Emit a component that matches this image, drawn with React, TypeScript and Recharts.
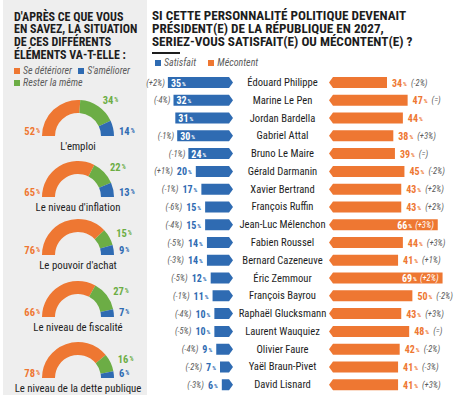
import { PieChart, Pie, Cell, BarChart, Bar, XAxis, YAxis } from 'recharts';

const ORANGE = '#ee7732';
const BLUE = '#2f6bb2';
const GREEN = '#6cad45';
const INK = '#1d1d1d';
const MUTED = '#5c5c5c';
const NARROW = "'Roboto Condensed', 'Liberation Sans Narrow', 'DejaVu Sans Condensed', 'Arial Narrow', sans-serif";

// Situation des différents éléments (%)
const themes = ["L'emploi", "Le niveau d'inflation", "Le pouvoir d'achat", 'Le niveau de fiscalité', 'Le niveau de la dette publique'];
const worsen = [52, 65, 76, 66, 78];
const steady = [34, 22, 15, 27, 16];
const improve = [14, 13, 9, 7, 6];

// Satisfait / mécontent si la personnalité devenait président(e) en 2027 (%)
const politicians = [
  'Édouard Philippe', 'Marine Le Pen', 'Jordan Bardella', 'Gabriel Attal', 'Bruno Le Maire',
  'Gérald Darmanin', 'Xavier Bertrand', 'François Ruffin', 'Jean-Luc Mélenchon', 'Fabien Roussel',
  'Bernard Cazeneuve', 'Éric Zemmour', 'François Bayrou', 'Raphaël Glucksmann', 'Laurent Wauquiez',
  'Olivier Faure', 'Yaël Braun-Pivet', 'David Lisnard',
];
const satisfied = [35, 32, 31, 30, 24, 20, 17, 15, 15, 14, 14, 12, 11, 10, 10, 9, 7, 6];
const satisfiedShift = ['+2%', '-4%', '', '-1%', '-1%', '+1%', '-1%', '-6%', '-4%', '-5%', '-3%', '-5%', '-1%', '-4%', '-5%', '-4%', '-2%', '-3%'];
const unhappy = [34, 47, 44, 38, 39, 45, 43, 43, 66, 44, 41, 69, 50, 43, 48, 42, 41, 41];
const unhappyShift = ['-2%', '=', '', '+3%', '=', '-2%', '+2%', '+2%', '+3%', '+3%', '+1%', '+2%', '-2%', '+3%', '=', '-2%', '-3%', '+3%'];

const donutY = [131, 192, 250, 312, 373];
const donuts = themes.map((theme, i) => [
  { key: 'Se détériorer', value: worsen[i], theme, color: ORANGE },
  { key: 'Rester la même', value: steady[i], theme, color: GREEN },
  { key: "S'améliorer", value: improve[i], theme, color: BLUE },
]);

const rows = politicians.map((name, i) => ({
  name,
  sat: satisfied[i],
  satShift: satisfiedShift[i],
  mec: unhappy[i],
  mecShift: unhappyShift[i],
}));

const TIP = 4;
// centre of the names column, in chart coordinates
const NAME_X = 142.5;

function pct(v: number, size: number) {
  return (
    <>
      <tspan fontWeight={700} fontSize={size}>{v}</tspan>
      <tspan fontWeight={700} fontSize={size * 0.6} dx={1}>%</tspan>
    </>
  );
}

function shift(s: string) {
  return s ? `(${s})` : '';
}

function donutLabel(props: any) {
  const { cx, cy, midAngle, outerRadius, index, value, payload } = props;
  const base = { fontFamily: NARROW, dominantBaseline: 'central' as const };
  if (index === 0) {
    return (
      <g>
        <text {...base} x={cx - outerRadius - 2} y={cy - 5} textAnchor="end" fill={ORANGE}>{pct(value, 10.5)}</text>
        <text {...base} x={cx} y={cy + 10} textAnchor="middle" fill={INK} fontSize={10.8}>{payload.theme}</text>
      </g>
    );
  }
  if (index === 2) {
    return <text {...base} x={cx + outerRadius + 5} y={cy - 5} textAnchor="start" fill={BLUE}>{pct(value, 10.5)}</text>;
  }
  const rad = (midAngle * Math.PI) / 180;
  const r = outerRadius + 8;
  return (
    <text {...base} x={cx + r * Math.cos(rad)} y={cy - r * Math.sin(rad)} textAnchor="start" fill={GREEN}>
      {pct(value, 10.5)}
    </text>
  );
}

function SatBar(props: any) {
  const { x, y, width, height, payload } = props;
  const left = Math.min(x, x + width);
  const right = Math.max(x, x + width);
  const top = y;
  const bottom = y + height;
  const mid = y + height / 2;
  const inside = payload.sat >= 22;
  const t = { fontFamily: NARROW, dominantBaseline: 'central' as const };
  return (
    <g>
      <polygon
        points={`${left},${top} ${right - TIP},${top} ${right},${mid} ${right - TIP},${bottom} ${left},${bottom}`}
        fill={BLUE}
      />
      {inside ? (
        <>
          <text {...t} x={left + 3} y={mid} fill="#fff">{pct(payload.sat, 10)}</text>
          <text {...t} x={left - 3} y={mid} textAnchor="end" fill={MUTED} fontSize={8.5} fontStyle="italic">
            {shift(payload.satShift)}
          </text>
        </>
      ) : (
        <text {...t} x={left - 4} y={mid} textAnchor="end">
          <tspan fill={MUTED} fontSize={8.5} fontStyle="italic">{shift(payload.satShift)}</tspan>
          <tspan dx={4} fill={BLUE}>{pct(payload.sat, 10)}</tspan>
        </text>
      )}
      <text {...t} x={NAME_X} y={mid} textAnchor="middle" fill={INK} fontSize={10.6}>
        {payload.name}
      </text>
    </g>
  );
}

function MecBar(props: any) {
  const { x, y, width, height, payload } = props;
  const left = Math.min(x, x + width);
  const right = Math.max(x, x + width);
  const top = y;
  const bottom = y + height;
  const mid = y + height / 2;
  const inside = payload.mec >= 60;
  const t = { fontFamily: NARROW, dominantBaseline: 'central' as const };
  return (
    <g>
      <polygon
        points={`${left - TIP},${mid} ${left},${top} ${right},${top} ${right},${bottom} ${left},${bottom}`}
        fill={ORANGE}
      />
      {inside ? (
        <text {...t} x={right - 4} y={mid} textAnchor="end" fill="#fff">
          {pct(payload.mec, 10)}
          <tspan dx={3} fontSize={8.5} fontStyle="italic">{shift(payload.mecShift)}</tspan>
        </text>
      ) : (
        <text {...t} x={right + 5} y={mid} textAnchor="start" fill={ORANGE}>
          {pct(payload.mec, 10)}
          <tspan dx={4} fill={MUTED} fontSize={8.5} fontStyle="italic">{shift(payload.mecShift)}</tspan>
        </text>
      )}
    </g>
  );
}

function Swatch({ color }: { color: string }) {
  return <span style={{ display: 'inline-block', width: 6, height: 6, background: color, marginRight: 3, verticalAlign: 'middle' }} />;
}

const titleStyle = {
  position: 'absolute' as const,
  fontFamily: NARROW,
  fontWeight: 700,
  fontSize: 13.2,
  lineHeight: '12.8px',
  color: INK,
  margin: 0,
  whiteSpace: 'nowrap' as const,
};

const legendStyle = {
  fontFamily: NARROW,
  fontStyle: 'italic',
  fontSize: 10,
  color: MUTED,
  whiteSpace: 'nowrap' as const,
};

export default function App() {
  return (
    <div style={{ position: 'absolute', left: 0, top: 0, width: 460, height: 395, background: '#fff', overflow: 'hidden' }}>
      {/* left panel: half donuts */}
      <div style={{ position: 'absolute', left: 3, top: 0, width: 144, height: 395, background: '#eeeeee' }} />
      <div style={{ ...titleStyle, left: 14, top: 10.5, fontSize: 12 }}>
        D'APRÈS CE QUE VOUS<br />EN SAVEZ, LA SITUATION<br />DE CES DIFFÉRENTS<br />ÉLÉMENTS VA-T-ELLE :
      </div>
      <div style={{ position: 'absolute', left: 14, top: 65, ...legendStyle }}>
        <Swatch color={ORANGE} />Se détériorer <span style={{ marginLeft: 4 }}><Swatch color={BLUE} />S'améliorer</span>
      </div>
      <div style={{ position: 'absolute', left: 14, top: 77, ...legendStyle }}>
        <Swatch color={GREEN} />Rester la même
      </div>
      <PieChart width={150} height={395} style={{ position: 'absolute', left: 0, top: 0 }}>
        {donuts.map((d, i) => (
          <Pie
            key={themes[i]}
            data={d}
            dataKey="value"
            nameKey="key"
            cx={73}
            cy={donutY[i]}
            startAngle={180}
            endAngle={0}
            innerRadius={23}
            outerRadius={36}
            stroke="none"
            label={donutLabel}
            labelLine={false}
            isAnimationActive={false}
          >
            {d.map((s) => (
              <Cell key={s.key} fill={s.color} />
            ))}
          </Pie>
        ))}
      </PieChart>

      {/* right panel: satisfait vs mécontent */}
      <div style={{ ...titleStyle, left: 152, top: 8.5, lineHeight: '13px' }}>
        SI CETTE PERSONNALITÉ POLITIQUE DEVENAIT<br />PRÉSIDENT(E) DE LA RÉPUBLIQUE EN 2027,<br />SERIEZ-VOUS SATISFAIT(E) OU MÉCONTENT(E) ?
      </div>
      <div style={{ position: 'absolute', left: 152, top: 52, width: 28, height: 2, background: INK }} />
      <div style={{ position: 'absolute', left: 155, top: 57, ...legendStyle }}>
        <Swatch color={BLUE} />Satisfait <span style={{ marginLeft: 10 }}><Swatch color={ORANGE} />Mécontent</span>
      </div>
      <BarChart
        layout="vertical"
        width={320}
        height={320}
        data={rows}
        margin={{ top: 0, right: 0, bottom: 0, left: 0 }}
        style={{ position: 'absolute', left: 140, top: 74 }}
      >
        <XAxis xAxisId="sat" type="number" domain={[0, 50]} reversed hide padding={{ left: 0, right: 227 }} />
        <XAxis xAxisId="mec" type="number" domain={[0, 80]} hide padding={{ left: 193, right: 0 }} />
        <YAxis yAxisId="sat" type="category" dataKey="name" hide />
        <YAxis yAxisId="mec" type="category" dataKey="name" hide />
        <Bar xAxisId="sat" yAxisId="sat" dataKey="sat" barSize={11} shape={<SatBar />} isAnimationActive={false} />
        <Bar xAxisId="mec" yAxisId="mec" dataKey="mec" barSize={11} shape={<MecBar />} isAnimationActive={false} />
      </BarChart>
    </div>
  );
}
